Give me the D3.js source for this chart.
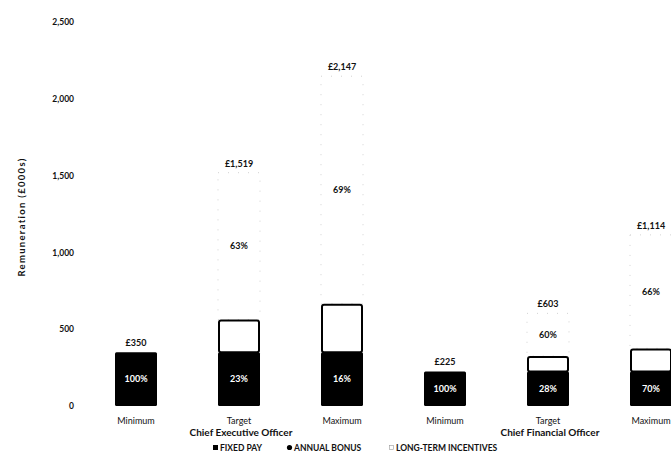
<!DOCTYPE html>
<html><head><meta charset="utf-8">
<script src="https://cdn.jsdelivr.net/npm/d3@7"></script>
<style>body{margin:0;background:#fff}svg{display:block}text{font-family:Lato,"Open Sans",sans-serif}</style>
</head><body>
<svg id="c" width="671" height="455"></svg>
<script>
const categories = ["Minimum","Target","Maximum","Minimum","Target","Maximum"];
const groups = ["Chief Executive Officer","Chief Financial Officer"];
const fixedPay = [350,350,350,225,225,225];
const annualBonus = [0,213,316,0,100,150];
const longTerm = [0,956,1481,0,278,739];
const totalLabels = ["£350","£1,519","£2,147","£225","£603","£1,114"];
const fixedPct = ["100%","23%","16%","100%","28%","70%"];
const ltiPct = ["","63%","69%","","60%","66%"];
const yTicks = [0,500,1000,1500,2000,2500];
const legendItems = ["FIXED PAY","ANNUAL BONUS","LONG-TERM INCENTIVES"];

const svg = d3.select("#c");
const idx = d3.range(categories.length);
const x = d3.scalePoint().domain(idx).range([136,651]);
const y = d3.scaleLinear().domain([0,2500]).range([406,22]);
const bw = 42;

// y axis
const yAxis = d3.axisLeft(y).tickValues(yTicks).tickFormat(d3.format(",")).tickSize(0).tickPadding(0);
const ga = svg.append("g").attr("transform","translate(74,0)").call(yAxis);
ga.select(".domain").remove();
ga.selectAll("text").attr("font-size",8.5).attr("font-weight","bold").attr("fill","#111");

svg.append("text").attr("transform","translate(25,217) rotate(-90)")
  .attr("text-anchor","middle").attr("font-size",9.5).attr("font-weight","bold").attr("fill","#111")
  .attr("letter-spacing",1.3)
  .text("Remuneration (£000s)");

// bars
const g = svg.append("g");
idx.forEach(i=>{
  const cx = x(i);
  const f = fixedPay[i], b = annualBonus[i], l = longTerm[i];
  if (l>0) {
    g.append("rect").attr("x",cx-bw/2).attr("width",bw)
      .attr("y",y(f+b+l)).attr("height",y(f+b)-y(f+b+l))
      .attr("fill","#fff").attr("stroke","#c8c8c8").attr("stroke-width",0.8)
      .attr("stroke-dasharray","1,9");
  }
  if (b>0) {
    g.append("rect").attr("x",cx-bw/2+1).attr("width",bw-2)
      .attr("y",y(f+b)+1).attr("height",y(f)-y(f+b)-1)
      .attr("fill","#fff").attr("stroke","#000").attr("stroke-width",2).attr("rx",2);
  }
  g.append("rect").attr("x",cx-bw/2).attr("width",bw)
    .attr("y",y(f)).attr("height",y(0)-y(f)).attr("fill","#000").attr("rx",1.5);
  g.append("text").attr("x",cx).attr("y",y(f/2)+3).attr("text-anchor","middle")
    .attr("font-size",9).attr("font-weight","bold").attr("fill","#fff").text(fixedPct[i]);
  if (ltiPct[i]) {
    g.append("text").attr("x",cx).attr("y",y(f+b+l/2)+3).attr("text-anchor","middle")
      .attr("font-size",9).attr("font-weight","bold").attr("fill","#111").text(ltiPct[i]);
  }
  g.append("text").attr("x",cx).attr("y",y(f+b+l)-6).attr("text-anchor","middle")
    .attr("font-size",9).attr("font-weight","bold").attr("fill","#111").text(totalLabels[i]);
  g.append("text").attr("x",cx).attr("y",424).attr("text-anchor","middle")
    .attr("font-size",9).attr("fill","#111").text(categories[i]);
});
groups.forEach((t,k)=>{
  svg.append("text").attr("x",x(k*3+1)+2).attr("y",436).attr("text-anchor","middle")
    .attr("font-size",10).attr("font-weight","bold").attr("fill","#111").text(t);
});

// legend
const lg = svg.append("g").attr("transform","translate(0,451)");
const lx = [213,287,389];
legendItems.forEach((t,k)=>{
  const gx = lg.append("g").attr("transform",`translate(${lx[k]},0)`);
  if (k===0) gx.append("rect").attr("x",0).attr("y",-6).attr("width",5).attr("height",5).attr("fill","#000");
  if (k===1) gx.append("circle").attr("cx",2.5).attr("cy",-3.5).attr("r",2.6).attr("fill","#000");
  if (k===2) gx.append("rect").attr("x",0.5).attr("y",-5.5).attr("width",4).attr("height",4).attr("fill","#fff").attr("stroke","#999").attr("stroke-width",0.6);
  gx.append("text").attr("x",7).attr("y",0).attr("font-size",8.5).attr("font-weight","bold").attr("fill","#111").text(t);
});
</script>
</body></html>
